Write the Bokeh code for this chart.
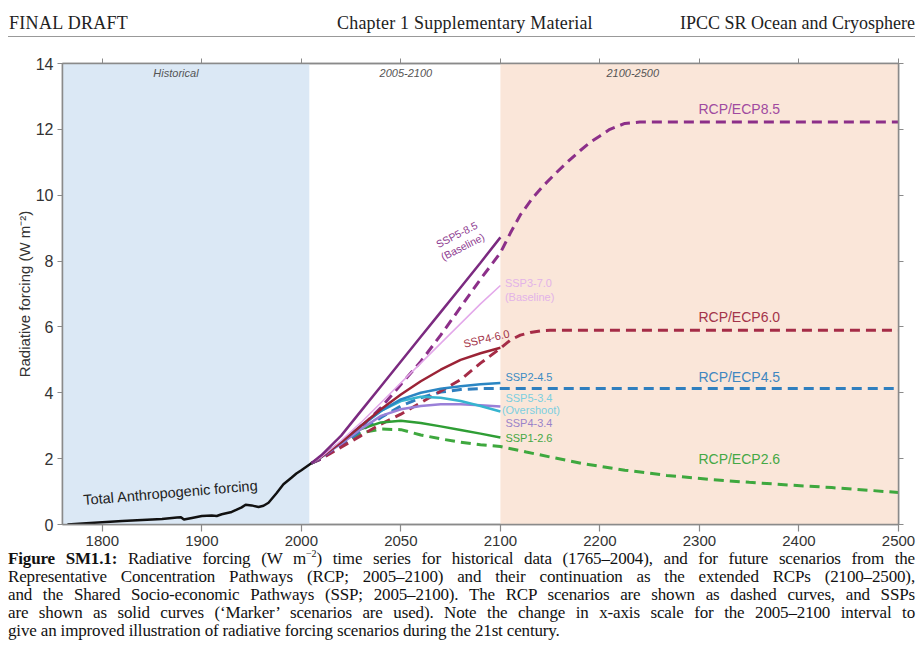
import numpy as np
from bokeh.plotting import figure
from bokeh.models import (Range1d, FixedTicker, LinearAxis, BoxAnnotation, Label, Div,
                          CustomJSTickFormatter)
from bokeh.layouts import column
from bokeh.embed import file_html
from bokeh.resources import INLINE

# ---------------- data ----------------
x_tick_years = [1800, 1900, 2000, 2050, 2100, 2200, 2300, 2400, 2500]
y_ticks = [0, 2, 4, 6, 8, 10, 12, 14]

hist_years = [1765, 1780, 1800, 1820, 1840, 1860, 1875, 1879, 1882, 1890, 1900, 1910, 1915,
              1920, 1930, 1940, 1944, 1950, 1957, 1962, 1967, 1975, 1982, 1990, 1995, 2000, 2005]
hist_vals = [0.00, 0.03, 0.07, 0.11, 0.14, 0.17, 0.21, 0.22, 0.15, 0.20, 0.26, 0.27, 0.26,
             0.31, 0.38, 0.52, 0.60, 0.58, 0.53, 0.57, 0.66, 0.95, 1.22, 1.42, 1.55, 1.65, 1.86]

ssp_years = [2005, 2010, 2020, 2030, 2040, 2050, 2060, 2070, 2080, 2090, 2100]
ssp585 = [1.86, 2.10, 2.70, 3.45, 4.20, 4.95, 5.70, 6.45, 7.20, 7.95, 8.72]
ssp370 = [1.86, 2.05, 2.55, 3.10, 3.70, 4.30, 4.90, 5.50, 6.10, 6.70, 7.26]
ssp460 = [1.86, 2.05, 2.50, 3.00, 3.50, 3.95, 4.35, 4.70, 5.00, 5.20, 5.37]
ssp245 = [1.86, 2.05, 2.50, 3.00, 3.45, 3.80, 4.00, 4.12, 4.20, 4.26, 4.30]
ssp534 = [1.86, 2.05, 2.50, 3.00, 3.45, 3.75, 3.88, 3.85, 3.75, 3.60, 3.43]
ssp434 = [1.86, 2.05, 2.45, 2.90, 3.30, 3.50, 3.60, 3.65, 3.65, 3.62, 3.58]
ssp126 = [1.86, 2.05, 2.50, 2.90, 3.10, 3.15, 3.08, 2.98, 2.87, 2.76, 2.64]

rcp85_years = ssp_years + [2110, 2120, 2132, 2142, 2155, 2167, 2180, 2190, 2200, 2210, 2225, 2240, 2300, 2400, 2500]
rcp85 = [1.86, 2.00, 2.45, 2.95, 3.55, 4.25, 4.95, 5.75, 6.60, 7.45, 8.25,
         8.85, 9.40, 9.90, 10.25, 10.65, 11.00, 11.35, 11.60, 11.80, 12.00, 12.18, 12.22, 12.22, 12.22, 12.22]
rcp60_years = ssp_years + [2110, 2120, 2130, 2140, 2150, 2200, 2300, 2400, 2500]
rcp60 = [1.86, 2.00, 2.35, 2.70, 3.05, 3.35, 3.70, 4.05, 4.40, 4.90, 5.35,
         5.60, 5.75, 5.83, 5.88, 5.90, 5.90, 5.90, 5.90, 5.90]
rcp45_years = ssp_years + [2200, 2300, 2400, 2500]
rcp45 = [1.86, 2.00, 2.40, 2.85, 3.25, 3.60, 3.85, 4.02, 4.10, 4.13, 4.13,
         4.13, 4.13, 4.13, 4.13]
rcp26_years = ssp_years + [2126, 2150, 2183, 2225, 2267, 2310, 2350, 2390, 2433, 2470, 2500]
rcp26 = [1.86, 2.00, 2.45, 2.78, 2.90, 2.88, 2.72, 2.60, 2.50, 2.42, 2.37,
         2.20, 2.05, 1.85, 1.65, 1.49, 1.37, 1.28, 1.20, 1.12, 1.04, 0.97]


def to_axis(year):
    """Piecewise x scale: 1 unit/yr before 2000, 2 units/yr 2000-2100, 1 unit/yr after 2100."""
    y = np.asarray(year, dtype=float)
    return np.where(y <= 2000, y, np.where(y <= 2100, 2000 + 2 * (y - 2000), 2200 + (y - 2100)))


FONT = "Liberation Sans"

p = figure(width=922, height=514, output_backend="svg", toolbar_location=None,
           x_range=Range1d(1760, 2600), y_range=Range1d(0, 14),
           min_border_left=62, min_border_right=24, min_border_top=23, min_border_bottom=30,
           background_fill_color="white", border_fill_color="white", margin=0)
p.grid.visible = False
p.outline_line_color = "#8a8a8a"
p.outline_line_width = 1.5

# shaded periods
p.add_layout(BoxAnnotation(left=1760, right=float(to_axis(2004)), fill_color="#dbe8f5",
                           fill_alpha=1.0, line_alpha=0, level="underlay"))
p.add_layout(BoxAnnotation(left=float(to_axis(2100)), right=2600, fill_color="#fae6d9",
                           fill_alpha=1.0, line_alpha=0, level="underlay"))

# axes
tick_u = [float(v) for v in to_axis(x_tick_years)]
xa = p.xaxis[0]
xa.ticker = FixedTicker(ticks=tick_u)
xa.major_label_overrides = {u: str(yr) for u, yr in zip(tick_u, x_tick_years)}
ya = p.yaxis[0]
ya.ticker = FixedTicker(ticks=y_ticks)
for ax in (xa, ya):
    ax.axis_line_color = "#8a8a8a"
    ax.axis_line_width = 1.5
    ax.major_tick_line_color = "#8a8a8a"
    ax.major_tick_line_width = 1.2
    ax.major_tick_in = 0
    ax.minor_tick_line_color = None
    ax.major_label_text_font = FONT
    ax.major_label_text_color = "#333333"
xa.major_tick_out = 7
xa.major_label_text_font_size = "15px"
xa.major_label_standoff = 4
ya.major_tick_out = 5
ya.major_label_text_font_size = "16px"
ya.major_label_standoff = 4
ya.axis_label = "Radiative forcing (W m\u207b\u00b2)"
ya.axis_label_text_font = FONT
ya.axis_label_text_font_size = "15px"
ya.axis_label_text_font_style = "normal"
ya.axis_label_text_color = "#333333"
ya.axis_label_standoff = 0

blank = CustomJSTickFormatter(code="return ''")
top = LinearAxis(ticker=FixedTicker(ticks=tick_u), formatter=blank)
right = LinearAxis(ticker=FixedTicker(ticks=y_ticks), formatter=blank)
for ax in (top, right):
    ax.axis_line_color = "#8a8a8a"
    ax.axis_line_width = 1.5
    ax.major_tick_line_color = "#8a8a8a"
    ax.major_tick_out = 5
    ax.major_tick_in = 0
    ax.minor_tick_line_color = None
    ax.major_label_standoff = 0
    ax.major_label_text_font_size = "1px"
p.add_layout(top, "above")
p.add_layout(right, "right")

# RCP / ECP dashed curves
dash = "10 6"
p.line(to_axis(rcp26_years), rcp26, line_color="#3ea83e", line_width=3, line_dash=dash)
p.line(to_axis(rcp45_years), rcp45, line_color="#2f7fbf", line_width=3, line_dash=dash)
p.line(to_axis(rcp60_years), rcp60, line_color="#a52c47", line_width=3, line_dash=dash)
p.line(to_axis(rcp85_years), rcp85, line_color="#8c2f89", line_width=3, line_dash=dash)

# SSP solid curves
sx = to_axis(ssp_years)
p.line(sx, ssp126, line_color="#2f9e35", line_width=2.5)
p.line(sx, ssp434, line_color="#9a80d8", line_width=2.5)
p.line(sx, ssp534, line_color="#36b4cf", line_width=2.5)
p.line(sx, ssp245, line_color="#2b86c3", line_width=2.5)
p.line(sx, ssp460, line_color="#9b2336", line_width=2.5)
p.line(sx, ssp370, line_color="#e3a8ea", line_width=1.5)
p.line(sx, ssp585, line_color="#7b2a80", line_width=2.5)

# historical
p.line(to_axis(hist_years), hist_vals, line_color="#111111", line_width=2.5)


def lab(text, year, yv, color, size="11px", align="left", angle=0.0, style="normal",
        baseline="middle"):
    p.add_layout(Label(x=float(to_axis(year)), y=yv, text=text, text_color=color,
                       text_font=FONT, text_font_size=size, text_align=align,
                       text_baseline=baseline, angle=angle, text_font_style=style))


# period labels
lab("Historical", 1874, 13.7, "#555555", size="11px", align="center", style="italic")
lab("2005-2100", 2052.5, 13.7, "#555555", size="11px", align="center", style="italic")
lab("2100-2500", 2233, 13.7, "#555555", size="11px", align="center", style="italic")

lab("Total Anthropogenic forcing", 1781, 0.74, "#222222", size="14.5px", angle=0.085)

# SSP labels
lab("SSP5-8.5", 2078, 8.81, "#8e3b91", size="10.5px", align="center", angle=0.47)
lab("(Baseline)", 2081, 8.44, "#8e3b91", size="10.5px", align="center", angle=0.47)
lab("SSP3-7.0", 2104.5, 7.32, "#e3b3e8")
lab("(Baseline)", 2104.5, 6.92, "#e3b3e8")
lab("SSP4-6.0", 2093, 5.65, "#a3344a", align="center", angle=0.23)
lab("SSP2-4.5", 2105, 4.49, "#3a8cc4")
lab("SSP5-3.4", 2105, 3.83, "#7ccfe0")
lab("(Overshoot)", 2101.5, 3.49, "#7ccfe0")
lab("SSP4-3.4", 2105, 3.07, "#9b84c9")
lab("SSP1-2.6", 2105, 2.64, "#45a845")

# RCP labels
lab("RCP/ECP8.5", 2340, 12.63, "#a04aa0", size="14px", align="center")
lab("RCP/ECP6.0", 2340, 6.29, "#a3344a", size="14px", align="center")
lab("RCP/ECP4.5", 2340, 4.49, "#3f86c0", size="14px", align="center")
lab("RCP/ECP2.6", 2340, 2.00, "#45a845", size="14px", align="center")

header = Div(width=922, height=40, margin=0, text=(
    "<div style=\"position:relative;width:922px;height:40px;font-family:'Liberation Serif',serif;"
    "font-size:18px;color:#222;\">"
    "<span style=\"position:absolute;left:9px;top:11px;letter-spacing:0.3px;\">FINAL DRAFT</span>"
    "<span style=\"position:absolute;left:337px;top:11px;letter-spacing:0.2px;\">Chapter 1 Supplementary Material</span>"
    "<span style=\"position:absolute;right:7px;top:11px;\">IPCC SR Ocean and Cryosphere</span>"
    "<div style=\"position:absolute;left:8px;top:36px;width:907px;border-top:1.5px solid #999;\"></div>"
    "</div>"))

cap_lines = [
    "<b>Figure SM1.1:</b> Radiative forcing (W m<sup style=\"font-size:10px;line-height:0;\">\u22122</sup>) "
    "time series for historical data (1765\u20132004), and for future scenarios from the",
    "Representative Concentration Pathways (RCP; 2005\u20132100) and their continuation as the extended RCPs (2100\u20132500),",
    "and the Shared Socio-economic Pathways (SSP; 2005\u20132100). The RCP scenarios are shown as dashed curves, and SSPs",
    "are shown as solid curves (\u2018Marker\u2019 scenarios are used). Note the change in x-axis scale for the 2005\u20132100 interval to",
    "give an improved illustration of radiative forcing scenarios during the 21st century.",
]
cap_html = ("<div style=\"position:relative;top:-4px;left:8px;width:907px;font-family:'Liberation Serif',serif;"
            "font-size:17px;line-height:18px;letter-spacing:-0.15px;color:#111;\">")
for i, ln in enumerate(cap_lines):
    last = i == len(cap_lines) - 1
    al = "left" if last else "justify"
    cap_html += f"<div style=\"text-align:{al};text-align-last:{al};\">{ln}</div>"
cap_html += "</div>"
caption = Div(width=922, height=96, margin=0, text=cap_html)

layout = column(header, p, caption)
open("out.html", "w").write(file_html(layout, INLINE))
